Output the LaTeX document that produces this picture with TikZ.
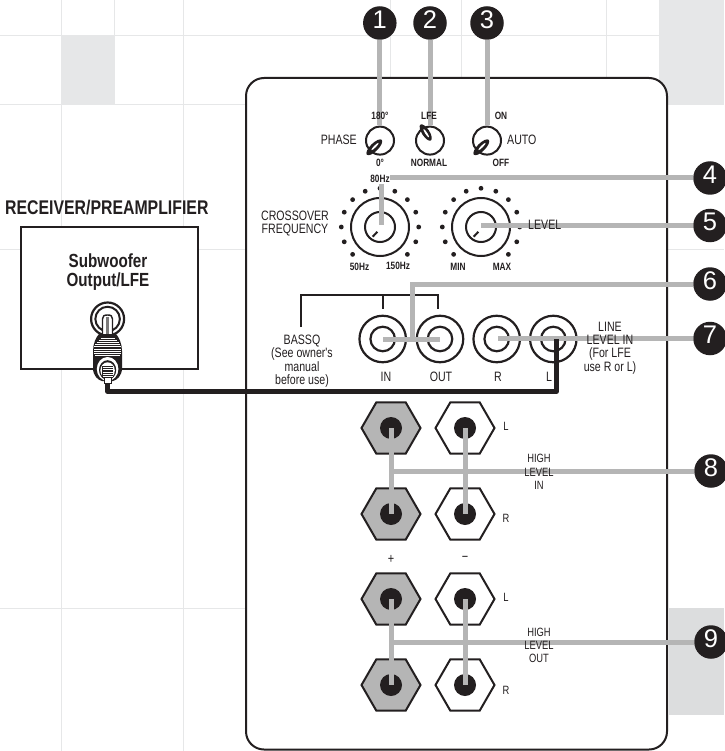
\documentclass[tikz,border=0pt]{standalone}
\usepackage{fontspec}
\usetikzlibrary{shapes.geometric,calc}
\setmainfont{Liberation Sans}
\newfontfamily\cn[FakeStretch=0.78]{Liberation Sans}
\newfontfamily\cnb[FakeStretch=0.78]{Liberation Sans}
\newfontfamily\cnw[FakeStretch=0.8]{Liberation Sans}
\definecolor{ink}{HTML}{231F20}
\definecolor{barg}{HTML}{B5B5B5}
\definecolor{gridg}{HTML}{E6E7E8}
\definecolor{blockb}{HTML}{DCDDDE}
\tikzset{
  gridline/.style={draw=gridg,line width=1pt},
  outline/.style={draw=ink,line width=2pt},
  bar/.style={draw=barg,line width=5pt},
  wire/.style={draw=ink,line width=4.6pt,line join=round},
  callout/.style={circle,fill=ink,text=white,minimum size=33.5pt,inner sep=0pt,outer sep=0pt,font=\fontsize{25.5}{25.5}\selectfont},
  knobsmall/.style={circle,draw=ink,line width=2pt,minimum size=28pt,inner sep=0pt,fill=white},
  ringouter/.style={circle,draw=ink,line width=2pt,minimum size=58pt,inner sep=0pt,fill=white},
  ringinner/.style={circle,draw=ink,line width=2pt,minimum size=30pt,inner sep=0pt},
  rcaouter/.style={circle,draw=ink,line width=2.2pt,minimum size=46.5pt,inner sep=0pt,fill=white},
  rcainner/.style={circle,draw=ink,line width=2.2pt,minimum size=24.5pt,inner sep=0pt},
  nutplain/.style={regular polygon,regular polygon sides=6,draw=ink,line width=2pt,minimum size=59pt,inner sep=0pt,fill=white},
  nutgray/.style={nutplain,fill=barg},
  bore/.style={circle,fill=ink,minimum size=22pt,inner sep=0pt},
  dialdot/.style={circle,fill=ink,minimum size=4.8pt,inner sep=0pt},
  lab/.style={inner sep=0pt,align=center,text=ink,font=\cn\fontsize{13.6}{13.4}\selectfont},
  labs/.style={lab,font=\cn\fontsize{12}{13.2}\selectfont},
  labb/.style={inner sep=0pt,align=center,text=ink,font=\cnb\bfseries\fontsize{10.6}{10.6}\selectfont},
}
\begin{document}
\begin{tikzpicture}[x=1pt,y=-1pt]
\useasboundingbox (0,0) rectangle (724,751);
% background blocks and grid
\fill[gridg] (61,36) rectangle (114,105);
\fill[gridg] (659,0) rectangle (724,105);
\fill[blockb] (669,608) rectangle (724,715);
\draw[gridline] (61,0)--(61,751) (183,0)--(183,751) (114,0)--(114,105)
  (390,0)--(390,78) (461,0)--(461,78) (606,0)--(606,78)
  (0,36)--(659,36) (0,105)--(246,105) (0,249)--(246,249) (667,249)--(724,249) (0,608)--(246,608);
% housing
\draw[outline,fill=white,rounded corners=18pt] (246,78) rectangle (667,749.5);
% receiver
\node[outline,fill=white,minimum width=177pt,minimum height=142pt,inner sep=0pt,anchor=north west] (recv) at (20,226) {};
% small knobs
\node[knobsmall] (phase) at (380,140.6) {};
\node[knobsmall] (lfe) at (430,140.6) {};
\node[knobsmall] (auto) at (487,140.6) {};
% dials
\node[ringouter] (xdial) at (380,227) {};
\node[ringinner] (xcap) at (380,227) {};
\node[ringouter] (ldial) at (481,227) {};
\node[ringinner] (lcap) at (481,227) {};
\foreach \d in {xdial,ldial}{
  \foreach \a in {-45,-22.5,...,225}{
    \node[dialdot] at ($(\d.center)+(\a:38.7pt)$) {};
  }
}
\draw[ink,line width=2pt] (372.7,236.7)--(377.3,231.8);
\draw[ink,line width=2pt] (473.7,236.7)--(478.3,231.8);
% RCA jacks
\foreach \n/\x in {jin/382.7,jout/440,jr/496.7,jl/553.3}{
  \node[rcaouter] (\n) at (\x,339) {};
  \node[rcainner] (\n c) at (\x,339) {};
}
% bracket
\coordinate (brL) at (301,327);
\coordinate (brA) at (301,295);
\coordinate (brB) at (438,295);
\coordinate (brC) at (438,309);
\coordinate (brD) at (383,295);
\coordinate (brE) at (383,309);
\draw[outline] (brL)--(brA)--(brB)--(brC) (brD)--(brE);
% binding posts
\foreach \n/\x/\y/\s in {a/391/428/nutgray,b/391/514/nutgray,c/391/599/nutgray,d/391/685/nutgray,
                         e/465/428/nutplain,f/465/514/nutplain,g/465/599/nutplain,h/465/685/nutplain}{
  \node[\s] (nut\n) at (\x,\y) {};
  \node[bore] (bore\n) at (\x,\y) {};
}
% callouts
\node[callout] (c1) at (379.8,23) {\strut 1};
\node[callout] (c2) at (430,23) {\strut 2};
\node[callout] (c3) at (487,23) {\strut 3};
\node[callout] (c4) at (710,178) {\strut 4};
\node[callout] (c5) at (710,225.5) {\strut 5};
\node[callout] (c6) at (710,284) {\strut 6};
\node[callout] (c7) at (710,338.5) {\strut 7};
\node[callout] (c8) at (711,471) {\strut 8};
\node[callout] (c9) at (711,642) {\strut 9};
% grey leader lines
\coordinate (e1) at (379.8,125.5);
\coordinate (e2) at (430,125.5);
\coordinate (e3) at (487,125.5);
\coordinate (k4) at (381.5,178);
\coordinate (e4) at (381.5,224.5);
\coordinate (e5) at (481,225.5);
\coordinate (k6) at (412,284);
\coordinate (d6) at (412,339);
\coordinate (l6) at (383,339);
\coordinate (r6) at (440,339);
\coordinate (e7) at (498,338.5);
\coordinate (k8) at (391,471);
\coordinate (k9) at (391,642);
\draw[bar] (c1)--(e1);
\draw[bar] (c2)--(e2);
\draw[bar] (c3)--(e3);
\draw[bar,line join=miter] (c4)--(k4)--(e4);
\draw[bar] (c5)--(e5);
\draw[bar] (c6)--(k6)--(d6) (l6)--(r6);
\draw[bar] (c7)--(e7);
\draw[bar] (c8)--(k8);
\draw[bar] (c9)--(k9);
\draw[bar] (borea.center)--(boreb.center);
\draw[bar] (boree.center)--(boref.center);
\draw[bar] (borec.center)--(bored.center);
\draw[bar] (boreg.center)--(boreh.center);
% knob pointers
\fill[ink,shift={(374.3,147.3)},rotate=45] (0,0) ellipse (10.5 and 4);
\fill[white,shift={(375,146.5)},rotate=45] (0,0) ellipse (5 and 1);
\fill[ink,shift={(425.7,132.5)},rotate=-57] (0,0) ellipse (9.5 and 3.8);
\fill[white,shift={(426.2,133.2)},rotate=-57] (0,0) ellipse (5 and 1);
\fill[ink,shift={(481.3,147.3)},rotate=45] (0,0) ellipse (10.5 and 4);
\fill[white,shift={(482,146.5)},rotate=45] (0,0) ellipse (5 and 1);
% source socket
\node[circle,draw=ink,line width=2.2pt,fill=white,minimum size=33pt,inner sep=0pt] (sock) at (107.6,319) {};
\node[circle,draw=ink,line width=2pt,minimum size=24.5pt,inner sep=0pt] (sockc) at (107.6,319) {};
% wire
\coordinate (plugend) at (107.6,381);
\coordinate (wa) at (107.6,391.7);
\coordinate (wb) at (556.5,391.7);
\coordinate (wc) at (556.5,338.5);
\draw[wire] (plugend)--(wa)--(wb)--(wc);
% plug
\draw[ink,line width=1.4pt,fill=white] (102.5,337) -- (102.5,319) .. controls (102.5,316) and (104,315) .. (107.6,315) .. controls (111,315) and (112.5,316) .. (112.5,319) -- (112.5,337) -- cycle;
\fill[barg!60!ink] (106.2,317) rectangle (109,336);
\path[fill=ink] (99,334) .. controls (96,337) and (93,344) .. (93,351)
  -- (93,368) .. controls (93,376) and (98,380) .. (102,381) -- (113,381)
  .. controls (117,380) and (122,376) .. (122,368) -- (122,351)
  .. controls (122,344) and (119,337) .. (116,334) -- cycle;
\foreach \y/\h in {338/7,340.2/9,342.4/11,344.6/12.5,346.8/13.2,349/13.6,351.2/13.6,353.4/13.2,355.6/12.5}{
  \draw[white,line width=1pt] (107.6-\h,\y)--(107.6+\h,\y);
}
\fill[white] (107.6,369) ellipse (10.8 and 12);
\fill[ink] (107.6,370) ellipse (8.6 and 9.8);
\fill[white] (107.6,370.5) ellipse (7.2 and 8.2);
\fill[ink] (102.2,366) rectangle (113,378);
\foreach \y in {367.5,369.7,...,377.5}{
  \draw[white,line width=0.8pt] (102.6,\y)--(112.6,\y);
}
\draw[ink,line width=1pt,fill=white] (104,377.5) rectangle (111.4,383.5);
% texts
\node[inner sep=0pt,text=ink,font=\cnw\bfseries\fontsize{19.8}{19.8}\selectfont] (t1) at (106.8,207.5) {RECEIVER/PREAMPLIFIER};
\node[inner sep=0pt,align=center,text=ink,font=\cnw\bfseries\fontsize{19}{19}\selectfont] (t2) at (108,272.5) {Subwoofer\\Output/LFE};
\node[labb] (t180) at (380,116) {180°};
\node[labb] (tlfe) at (429,116) {LFE};
\node[labb] (ton) at (501,116) {ON};
\node[labb] (t0) at (380,162.5) {0°};
\node[labb] (tnorm) at (429,162.5) {NORMAL};
\node[labb] (toff) at (501,162.5) {OFF};
\node[labb,fill=white,inner xsep=0.5pt,inner ysep=1.5pt] (t80) at (380,179) {80Hz};
\node[labb] (t50) at (359.5,266.5) {50Hz};
\node[labb] (t150) at (398,265.7) {150Hz};
\node[labb] (tmin) at (458,266.5) {MIN};
\node[labb] (tmax) at (502,266.5) {MAX};
\node[lab,anchor=east] (tphase) at (357,140.3) {PHASE};
\node[lab,anchor=west] (tauto) at (507,140.3) {AUTO};
\node[lab] (tcross) at (295,223.5) {CROSSOVER\\FREQUENCY};
\node[lab,anchor=west] (tlevel) at (528,225.3) {LEVEL};
\node[lab] (tbass) at (302,361) {BASSQ\\(See owner's\\manual\\before use)};
\node[lab] (tin) at (386,377) {IN};
\node[lab] (tout) at (441,377) {OUT};
\node[lab] (tr) at (498,377) {R};
\node[lab] (tl) at (549,377) {L};
\node[lab] (tline) at (610,348) {LINE\\LEVEL IN\\(For LFE\\use R or L)};
\node[labs] (hl1) at (506,426) {L};
\node[labs] (hr1) at (506,518) {R};
\node[labs,font=\cn\fontsize{14}{14}\selectfont] (tplus) at (391,559) {+};
\node[labs,font=\cn\fontsize{14}{14}\selectfont] (tminus) at (465,559) {−};
\node[labs] (hl2) at (506,597) {L};
\node[labs] (hr2) at (506,690) {R};
\node[labs] (thi) at (539,472) {HIGH\\LEVEL\\IN};
\node[labs] (tho) at (539,645.5) {HIGH\\LEVEL\\OUT};
\end{tikzpicture}
\end{document}
